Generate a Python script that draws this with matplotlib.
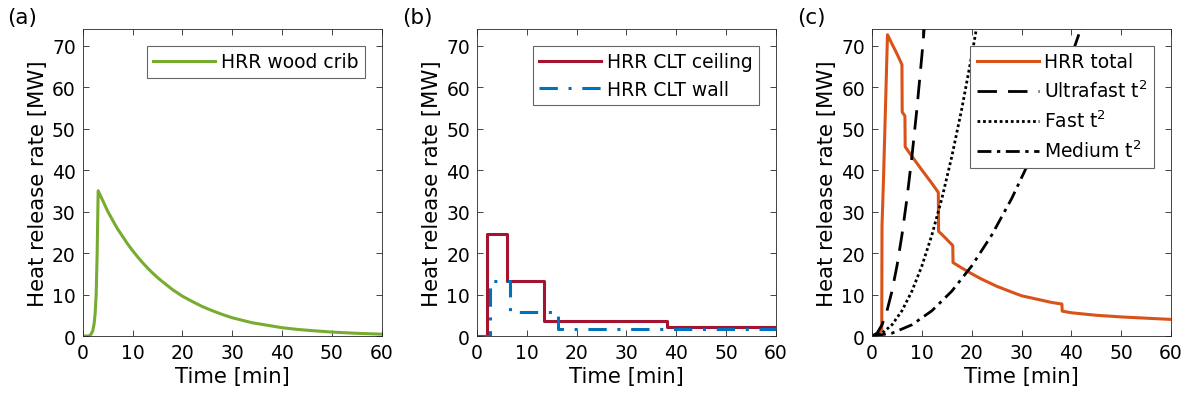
import matplotlib
matplotlib.use('Agg')
import matplotlib.pyplot as plt

# (a) wood crib HRR [min], [MW]
crib_t = [0, 1.2, 1.6, 2.0, 2.3, 2.5, 2.7, 2.9, 3.1, 4, 5, 6, 7, 8, 9, 10, 11,
          12, 13, 14, 15, 16, 18, 20, 22, 24, 26, 28, 30, 32, 34, 36, 38, 40,
          43, 46, 50, 55, 60]
crib_q = [0, 0, 0.3, 1.2, 3.0, 5.5, 10, 20, 35, 32.7, 30.1, 27.9, 25.8, 24.0,
          22.2, 20.6, 19.1, 17.7, 16.4, 15.2, 14.1, 13.1, 11.2, 9.6, 8.3, 7.1,
          6.1, 5.2, 4.4, 3.8, 3.2, 2.8, 2.4, 2.0, 1.6, 1.3, 0.95, 0.65, 0.45]

# (b) CLT ceiling / wall, stepwise
ceil_t = [0, 2.1, 6.1, 13.4, 38.1, 60]
ceil_q = [0, 24.5, 13.3, 3.7, 2.1, 2.1]
wall_t = [0, 2.7, 6.7, 16.3, 60]
wall_q = [0, 13.2, 5.9, 1.7, 1.7]

# (c) total HRR and design t^2 fires
tot_t = [0, 1.0, 1.5, 1.95, 2.0, 2.3, 3.1, 4, 5, 6.0, 6.05, 6.6, 6.65, 8, 10,
         12, 13.3, 13.35, 14, 16.2, 16.25, 18, 20, 22, 25, 28, 30, 33, 36,
         38.1, 38.15, 40, 45, 50, 55, 60]
tot_q = [0, 0, 0.6, 1.7, 26.5, 37.8, 72.6, 70.4, 68.0, 65.4, 54.0, 53.0, 45.6,
         43.3, 40.0, 36.8, 34.6, 25.2, 24.5, 21.8, 17.7, 16.4, 15.0, 13.7,
         12.0, 10.6, 9.7, 8.9, 8.1, 7.7, 6.0, 5.6, 5.0, 4.6, 4.3, 4.0]
ultra_t = [0, 1, 2, 3, 4, 5, 6, 7, 8, 9, 10, 10.5]
ultra_q = [0, 0.68, 2.70, 6.08, 10.81, 16.88, 24.31, 33.09, 43.22, 54.70,
           67.54, 74.46]
fast_t = [0, 2, 4, 6, 8, 10, 12, 14, 16, 18, 20, 21]
fast_q = [0, 0.68, 2.70, 6.08, 10.81, 16.88, 24.31, 33.09, 43.22, 54.70,
          67.54, 74.46]
med_t = [0, 4, 8, 12, 16, 20, 24, 28, 32, 36, 40, 42]
med_q = [0, 0.68, 2.70, 6.08, 10.80, 16.88, 24.30, 33.08, 43.21, 54.69,
         67.51, 74.43]

plt.rcParams['font.family'] = ['DejaVu Sans']
plt.rcParams['mathtext.fontset'] = 'dejavusans'

fig = plt.figure(figsize=(11.9, 4.1), dpi=100)
lefts = [0.0695, 0.4008, 0.7328]
axes = [fig.add_axes([l, 0.178, 0.2513, 0.749]) for l in lefts]

lw = 2.2
ax = axes[0]
ax.plot(crib_t, crib_q, color='#77AC30', lw=lw, label='HRR wood crib')

ax = axes[1]
ax.plot(ceil_t, ceil_q, color='#A2142F', lw=lw, drawstyle='steps-post',
        label='HRR CLT ceiling')
ax.plot(wall_t, wall_q, color='#0072BD', lw=lw, drawstyle='steps-post',
        dashes=(6, 3.5, 1, 3.5), label='HRR CLT wall')

ax = axes[2]
ax.plot(tot_t, tot_q, color='#D95319', lw=lw, label='HRR total')
ax.plot(ultra_t, ultra_q, color='k', lw=2, dashes=(7, 4),
        label='Ultrafast t$^2$')
ax.plot(fast_t, fast_q, color='k', lw=2, dashes=(1, 1), label='Fast t$^2$')
ax.plot(med_t, med_q, color='k', lw=2, dashes=(5, 2, 1.2, 2),
        label='Medium t$^2$')

for ax, tag, x in zip(axes, ['(a)', '(b)', '(c)'], [0.006, 0.338, 0.670]):
    ax.set_xlim(0, 60)
    ax.set_ylim(0, 74)
    ax.set_xticks(range(0, 61, 10))
    ax.set_yticks(range(0, 71, 10))
    ax.tick_params(direction='in', top=True, right=True, labelsize=13.5,
                   length=4, width=0.6, color='0.15', pad=5)
    for s in ax.spines.values():
        s.set_color('0.15')
        s.set_linewidth(0.6)
    ax.set_xlabel('Time [min]', fontsize=15.3, labelpad=3)
    ax.set_ylabel('Heat release rate [MW]', fontsize=15.3, labelpad=3)
    leg = ax.legend(loc='upper right', fontsize=13.5, handlelength=3.3,
                    borderaxespad=0.9, fancybox=False, framealpha=1,
                    edgecolor='0.4', labelspacing=0.45, handletextpad=0.3,
                    borderpad=0.35)
    leg.get_frame().set_linewidth(0.8)
    fig.text(x, 0.955, tag, fontsize=15.5, va='center', ha='left')

fig.savefig('out.png', dpi=100)
